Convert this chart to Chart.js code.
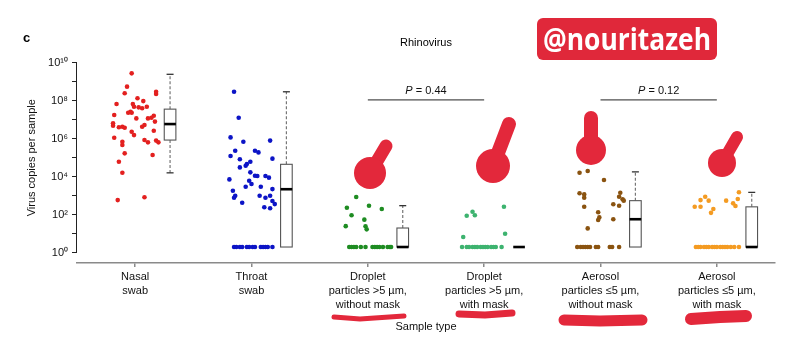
<!DOCTYPE html>
<html><head><meta charset="utf-8">
<script src="https://cdn.jsdelivr.net/npm/chart.js@4.4.1/dist/chart.umd.min.js"></script>
<style>html,body{margin:0;padding:0;background:#fff}canvas{display:block}</style>
</head><body>
<canvas id="c" width="800" height="355"></canvas>
<script>
// ---------------- DATA ----------------
const categories = [
  ["Nasal","swab"],
  ["Throat","swab"],
  ["Droplet","particles >5 µm,","without mask"],
  ["Droplet","particles >5 µm,","with mask"],
  ["Aerosol","particles \u22645 µm,","without mask"],
  ["Aerosol","particles \u22645 µm,","with mask"]
];
// y values are read on the log axis (log10 of virus copies); x jitter in category units
const nasalJitter = [-0.03,-0.07,-0.09,0.18,0.18,0.02,0.07,-0.16,-0.02,0.03,0.06,0.10,-0.01,-0.04,-0.03,-0.06,-0.18,0.01,0.16,0.11,0.14,0.17,-0.19,-0.19,-0.14,-0.11,-0.09,0.06,0.08,-0.03,-0.01,0.16,-0.18,0.08,0.11,0.18,0.20,-0.11,-0.11,-0.09,0.15,-0.14,-0.11,-0.15,0.08];
const nasalLog10  = [9.44,8.74,8.39,8.47,8.35,8.13,7.98,7.83,7.83,7.65,7.6,7.68,7.68,7.42,7.37,7.37,7.25,7.07,7.21,7.07,7.1,6.9,6.81,6.68,6.6,6.63,6.58,6.63,6.72,6.37,6.19,6.42,6.05,5.93,5.81,5.9,5.81,5.84,5.67,5.23,5.14,4.79,4.21,2.77,2.92];
const nasalZeroJitter = [];

const throatJitter = [-0.15,-0.11,-0.18,0.16,-0.07,-0.14,0.03,0.06,-0.18,0.18,-0.10,-0.01,-0.04,-0.05,-0.10,-0.01,0.03,0.05,0.12,0.15,-0.19,-0.02,0.00,0.08,0.18,-0.05,-0.16,-0.14,-0.15,0.07,0.12,0.16,0.18,0.20,-0.08,0.11,0.16];
const throatLog10  = [8.47,7.1,6.07,5.9,5.84,5.37,5.37,5.28,5.09,4.95,4.92,4.79,4.67,4.58,4.49,4.23,4.05,4.04,4.04,3.95,3.86,3.79,3.62,3.47,3.35,3.47,3.26,3.0,2.89,3.0,2.89,3.0,2.72,2.56,2.63,2.39,2.34];
const throatZeroJitter = [-0.15,-0.13,-0.10,-0.08,-0.04,-0.02,0.01,0.03,0.08,0.10,0.12,0.14,0.18];

const dropletNoMaskJitter = [-0.10,-0.18,0.01,0.12,-0.14,-0.03,-0.19,-0.02,-0.01];
const dropletNoMaskLog10  = [2.93,2.37,2.47,2.3,1.97,1.74,1.4,1.39,1.23];
const dropletNoMaskZeroJitter = [-0.16,-0.14,-0.12,-0.10,-0.06,-0.02,0.04,0.06,0.08,0.10,0.13,0.17,0.19,0.20];

const dropletMaskJitter = [-0.15,-0.10,-0.08,0.17,-0.18,0.18];
const dropletMaskLog10  = [1.95,2.16,1.97,2.42,0.83,1.0];
const dropletMaskZeroJitter = [-0.19,-0.15,-0.13,-0.10,-0.08,-0.06,-0.03,-0.01,0.01,0.03,0.06,0.08,0.10,0.15];

const aerosolNoMaskJitter = [-0.18,-0.11,0.03,-0.18,-0.14,-0.14,-0.14,0.17,0.16,0.19,0.20,0.11,0.16,-0.02,-0.01,-0.02,0.11,-0.11];
const aerosolNoMaskLog10  = [4.21,4.3,3.83,3.13,3.07,2.89,2.42,3.16,2.95,2.81,2.74,2.55,2.47,2.13,1.86,1.72,1.76,1.28];
const aerosolNoMaskZeroJitter = [-0.20,-0.17,-0.15,-0.13,-0.11,-0.09,-0.04,-0.02,0.08,0.10,0.16];

const aerosolMaskJitter = [-0.19,-0.14,-0.14,-0.10,-0.07,-0.03,-0.05,0.08,0.14,0.16,0.18,0.19];
const aerosolMaskLog10  = [2.42,2.42,2.77,2.95,2.74,2.3,2.1,2.74,2.6,2.46,2.83,3.18];
const aerosolMaskZeroJitter = [-0.18,-0.16,-0.14,-0.11,-0.09,-0.07,-0.04,-0.02,0.00,0.03,0.05,0.07,0.09,0.12,0.15,0.19];

const zeroPlotValue = 2; // undetected samples drawn at the bottom row

// box plot statistics (virus copies)
const boxHigh   = [2.45e9, 2.95e8, 300, 2, 1.8e4, 1500];
const boxQ3     = [3.6e7,  4.5e4,  20,  2, 550,   260];
const boxMedian = [5.9e6,  2.2e3,  2,   2, 58,    2];
const boxQ1     = [8.5e5,  2,      2,   2, 2,     2];
const boxLow    = [1.6e4,  2,      2,   2, 2,     2];

const yTickExponents = [0,1,2,3,4,5,6,7,8,9,10];
const pComparisons = [{from:2, to:3, p:"0.44"}, {from:4, to:5, p:"0.12"}];
const pBracketValue = 1.1e8;

// ---------------- STYLE ----------------
const seriesColors = ['#e3201f','#0c14c6','#1e8c22','#3db36f','#8a5310','#f49b22'];
const FONT = "'Liberation Sans', Arial, Helvetica, sans-serif";
const BOX_OFFSET = 0.30, BOX_HALF = 0.05;

const groups = [
  [nasalJitter, nasalLog10, nasalZeroJitter],
  [throatJitter, throatLog10, throatZeroJitter],
  [dropletNoMaskJitter, dropletNoMaskLog10, dropletNoMaskZeroJitter],
  [dropletMaskJitter, dropletMaskLog10, dropletMaskZeroJitter],
  [aerosolNoMaskJitter, aerosolNoMaskLog10, aerosolNoMaskZeroJitter],
  [aerosolMaskJitter, aerosolMaskLog10, aerosolMaskZeroJitter]
];

const datasets = groups.map(([jit, lg, zj], i) => ({
  label: categories[i].join(' '),
  data: jit.map((j, k) => ({x: i + j, y: Math.pow(10, lg[k])}))
        .concat(zj.map(j => ({x: i + j, y: zeroPlotValue}))),
  backgroundColor: seriesColors[i],
  borderWidth: 0,
  pointRadius: 2.3,
  pointHoverRadius: 2.3
}));

const supers = {'0':'\u2070','1':'\u00b9','2':'\u00b2','3':'\u00b3','4':'\u2074','5':'\u2075','6':'\u2076','7':'\u2077','8':'\u2078','9':'\u2079'};
const supText = n => String(n).split('').map(c => supers[c]).join('');

const overlay = {
  id: 'overlay',
  afterDraw(chart) {
    const {ctx, scales: {x, y}, chartArea} = chart;
    ctx.save();
    // y axis line (from 10^0 to 10^10)
    ctx.strokeStyle = '#222'; ctx.lineWidth = 1;
    const ax = chartArea.left - 0.5;
    ctx.beginPath();
    ctx.moveTo(ax, y.getPixelForValue(1)); ctx.lineTo(ax, y.getPixelForValue(1e10));
    ctx.stroke();

    // box plots
    for (let i = 0; i < categories.length; i++) {
      const cx = x.getPixelForValue(i + BOX_OFFSET);
      const hw = x.getPixelForValue(i + BOX_OFFSET + BOX_HALF) - cx;
      const yH = y.getPixelForValue(boxHigh[i]), y3 = y.getPixelForValue(boxQ3[i]);
      const yM = y.getPixelForValue(boxMedian[i]), y1 = y.getPixelForValue(boxQ1[i]);
      const yL = y.getPixelForValue(boxLow[i]);
      ctx.setLineDash([3, 2]); ctx.strokeStyle = '#777'; ctx.lineWidth = 1.2;
      if (yH < y3 - 0.5) { ctx.beginPath(); ctx.moveTo(cx, y3); ctx.lineTo(cx, yH); ctx.stroke(); }
      if (yL > y1 + 0.5) { ctx.beginPath(); ctx.moveTo(cx, y1); ctx.lineTo(cx, yL); ctx.stroke(); }
      ctx.setLineDash([]); ctx.strokeStyle = '#333'; ctx.lineWidth = 1.3;
      if (yH < y3 - 0.5) { ctx.beginPath(); ctx.moveTo(cx - 3.5, yH); ctx.lineTo(cx + 3.5, yH); ctx.stroke(); }
      if (yL > y1 + 0.5) { ctx.beginPath(); ctx.moveTo(cx - 3.5, yL); ctx.lineTo(cx + 3.5, yL); ctx.stroke(); }
      if (y1 - y3 > 0.5) {
        ctx.fillStyle = '#fff'; ctx.strokeStyle = '#555'; ctx.lineWidth = 1.1;
        ctx.fillRect(cx - hw, y3, 2 * hw, y1 - y3);
        ctx.strokeRect(cx - hw, y3, 2 * hw, y1 - y3);
      }
      ctx.strokeStyle = '#000'; ctx.lineWidth = 2.6;
      ctx.beginPath(); ctx.moveTo(cx - hw, yM); ctx.lineTo(cx + hw, yM); ctx.stroke();
    }

    // P-value brackets
    ctx.strokeStyle = '#222'; ctx.lineWidth = 1; ctx.fillStyle = '#111';
    const yb = y.getPixelForValue(pBracketValue);
    pComparisons.forEach(c => {
      const xa = x.getPixelForValue(c.from), xb = x.getPixelForValue(c.to);
      ctx.beginPath(); ctx.moveTo(xa, yb); ctx.lineTo(xb, yb); ctx.stroke();
      ctx.textBaseline = 'alphabetic';
      ctx.font = 'italic 11px ' + FONT;
      const wp = ctx.measureText('P').width;
      ctx.font = '11px ' + FONT;
      const rest = ' = ' + c.p, wr = ctx.measureText(rest).width;
      const sx = (xa + xb) / 2 - (wp + wr) / 2;
      ctx.font = 'italic 11px ' + FONT; ctx.textAlign = 'left';
      ctx.fillText('P', sx, yb - 6);
      ctx.font = '11px ' + FONT; ctx.fillText(rest, sx + wp, yb - 6);
    });

    // panel letter and title
    ctx.fillStyle = '#000'; ctx.textAlign = 'left'; ctx.textBaseline = 'middle';
    ctx.font = 'bold 13px ' + FONT; ctx.fillText('c', 23, 38);
    ctx.font = '11px ' + FONT; ctx.textAlign = 'center';
    ctx.fillText('Rhinovirus', (chartArea.left + chartArea.right) / 2, 43);

    // y axis title
    ctx.save();
    ctx.translate(32, (y.getPixelForValue(1) + y.getPixelForValue(1e10)) / 2);
    ctx.rotate(-Math.PI / 2);
    ctx.font = '11px ' + FONT; ctx.fillStyle = '#111';
    ctx.fillText('Virus copies per sample', 0, 0);
    ctx.restore();

    // watermark
    ctx.fillStyle = '#e0283a';
    ctx.beginPath(); ctx.roundRect(537, 18, 180, 42, 6); ctx.fill();
    ctx.fillStyle = '#fff';
    ctx.font = "bold 30px 'Open Sans', sans-serif";
    const ww = ctx.measureText('@nouritazeh').width;
    ctx.save(); ctx.translate(627, 40); ctx.scale(168 / ww, 1);
    ctx.textAlign = 'center'; ctx.textBaseline = 'middle';
    ctx.fillText('@nouritazeh', 0, 1);
    ctx.restore();

    // hand-drawn red marks
    ctx.strokeStyle = '#e3283b'; ctx.fillStyle = '#e3283b'; ctx.lineCap = 'round';
    const arrows = [
      {t:[386,146], h:[370,173], r:16, w:13},
      {t:[509,124], h:[493,166], r:17, w:14},
      {t:[591,118], h:[591,150], r:15, w:14},
      {t:[737,137], h:[722,163], r:14, w:12}
    ];
    arrows.forEach(a => {
      ctx.lineWidth = a.w;
      ctx.beginPath(); ctx.moveTo(a.t[0], a.t[1]); ctx.lineTo(a.h[0], a.h[1]); ctx.stroke();
      ctx.beginPath(); ctx.arc(a.h[0], a.h[1], a.r, 0, Math.PI * 2); ctx.fill();
    });
    const lines = [
      {p:[[334,317],[360,319],[404,316]], w:5},
      {p:[[459,314],[485,315],[512,313]], w:7},
      {p:[[564,320],[600,321],[642,320]], w:11},
      {p:[[691,319],[720,317],[746,316]], w:12}
    ];
    lines.forEach(l => {
      ctx.lineWidth = l.w; ctx.beginPath();
      l.p.forEach((pt, k) => k ? ctx.lineTo(pt[0], pt[1]) : ctx.moveTo(pt[0], pt[1]));
      ctx.stroke();
    });
    ctx.restore();
  }
};

Chart.defaults.font.family = FONT;
Chart.defaults.color = '#111';

new Chart(document.getElementById('c'), {
  type: 'scatter',
  data: { datasets },
  options: {
    responsive: false,
    animation: false,
    events: [],
    layout: { padding: { left: 0, right: 25, top: 62.7, bottom: 0 } },
    plugins: { legend: { display: false }, tooltip: { enabled: false } },
    scales: {
      x: {
        type: 'linear', min: -0.5, max: 5.5,
        afterBuildTicks: s => { s.ticks = categories.map((_, i) => ({ value: i })); },
        afterFit: s => { s.height = 92; },
        ticks: {
          autoSkip: false, maxRotation: 0, padding: 3,
          font: { size: 11, lineHeight: '14px' }, color: '#111',
          callback: v => categories[v]
        },
        grid: { drawOnChartArea: false, drawTicks: true, tickLength: 4, color: '#8a8a8a', lineWidth: 1.5 },
        border: { display: true, color: '#8a8a8a', width: 1.6 },
        title: { display: true, text: 'Sample type', font: { size: 11 }, color: '#111', padding: { top: 0, bottom: 21 } }
      },
      y: {
        type: 'logarithmic', min: Math.pow(10, -0.54), max: 1e10,
        afterBuildTicks: s => { s.ticks = yTickExponents.map(e => ({ value: Math.pow(10, e) })); },
        afterFit: s => { s.width = 77; },
        ticks: {
          autoSkip: false, padding: 4, font: { size: 11 }, color: '#111',
          callback: v => { const e = Math.round(Math.log10(v)); return e % 2 === 0 ? '10' + supText(e) : ''; }
        },
        grid: { drawOnChartArea: false, drawTicks: true, tickLength: 5, color: '#222', lineWidth: 1 },
        border: { display: false }
      }
    }
  },
  plugins: [overlay]
});
</script>
</body></html>
